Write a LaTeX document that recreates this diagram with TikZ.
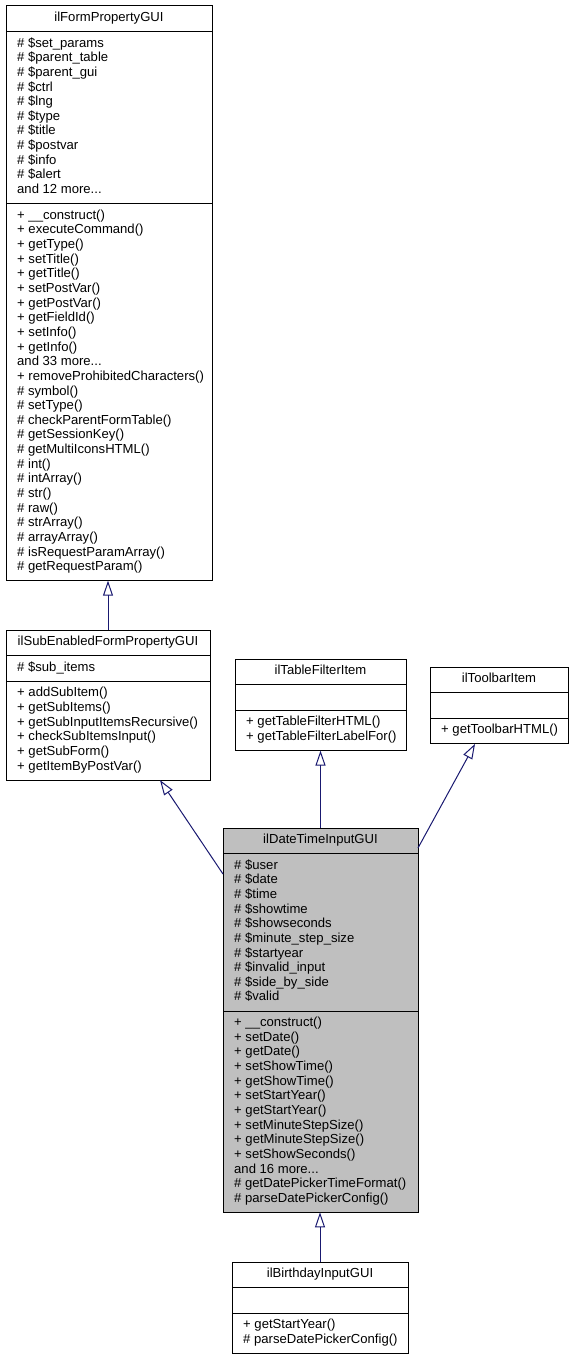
\documentclass[tikz,border=0pt]{standalone}
\usepackage{fontspec}
\setmainfont{Liberation Sans}
\usetikzlibrary{arrows.meta,calc}
\definecolor{edgeblue}{HTML}{191970}
\definecolor{hlgray}{HTML}{BFBFBF}
\newcommand\mymoredots{...}
\newcommand\memberlist[4]{%
  \foreach [count=\i from 0] \t in {#4}
    \node[mem] (#1\i) at (#2,{#3+\i*14.65}) {\t};}
\tikzset{
  umlbox/.style={draw=black, line width=1pt, rectangle, inner sep=0pt, outer sep=0pt, anchor=north west, fill=white},
  sepline/.style={draw=black, line width=1pt},
  mem/.style={anchor=base west, inner sep=0pt, font=\fontsize{13.1}{14.65}\selectfont},
  ttl/.style={anchor=base, inner sep=0pt, font=\fontsize{13.1}{14.65}\selectfont},
  inh/.style={draw=edgeblue, line width=1pt, -{Triangle[open, length=15pt, width=10pt]}}
}
\begin{document}
\begin{tikzpicture}[x=1pt,y=-1pt]
\useasboundingbox (0,0) rectangle (574,1359);

% ---- A: ilFormPropertyGUI
\node[umlbox, minimum width=206pt, minimum height=574.68pt] (A) at (6,6) {};
\draw[sepline] (6,31.64) -- (212,31.64);
\draw[sepline] (6,203.68) -- (212,203.68);
\node[ttl] (At) at (109,21.5) {ilFormPropertyGUI};
\memberlist{Aa}{17}{47.1}{\# \$set\_params,\# \$parent\_table,\# \$parent\_gui,\# \$ctrl,\# \$lng,\# \$type,\# \$title,\# \$postvar,\# \$info,\# \$alert,and 12 more\mymoredots}
\memberlist{Am}{17}{219.2}{+ \_\_construct(),+ executeCommand(),+ getType(),+ setTitle(),+ getTitle(),+ setPostVar(),+ getPostVar(),+ getFieldId(),+ setInfo(),+ getInfo(),and 33 more\mymoredots,+ removeProhibitedCharacters(),\# symbol(),\# setType(),\# checkParentFormTable(),\# getSessionKey(),\# getMultiIconsHTML(),\# int(),\# intArray(),\# str(),\# raw(),\# strArray(),\# arrayArray(),\# isRequestParamArray(),\# getRequestParam()}

% ---- B: ilSubEnabledFormPropertyGUI
\node[umlbox, minimum width=204pt, minimum height=150.12pt] (B) at (6,630) {};
\draw[sepline] (6,655.64) -- (210,655.64);
\draw[sepline] (6,681.28) -- (210,681.28);
\node[ttl] (Bt) at (108,645.5) {ilSubEnabledFormPropertyGUI};
\memberlist{Ba}{17}{671.1}{\# \$sub\_items}
\memberlist{Bm}{17}{696.8}{+ addSubItem(),+ getSubItems(),+ getSubInputItemsRecursive(),+ checkSubItemsInput(),+ getSubForm(),+ getItemByPostVar()}

% ---- C: ilTableFilterItem
\node[umlbox, minimum width=171pt, minimum height=91.56pt] (C) at (235,659) {};
\draw[sepline] (235,684.64) -- (406,684.64);
\draw[sepline] (235,710.28) -- (406,710.28);
\node[ttl] (Ct) at (320.5,674.5) {ilTableFilterItem};
\memberlist{Cm}{246}{725.8}{+ getTableFilterHTML(),+ getTableFilterLabelFor()}

% ---- D: ilToolbarItem
\node[umlbox, minimum width=138pt, minimum height=76.92pt] (D) at (430,667) {};
\draw[sepline] (430,692.64) -- (568,692.64);
\draw[sepline] (430,718.28) -- (568,718.28);
\node[ttl] (Dt) at (499,682.5) {ilToolbarItem};
\memberlist{Dm}{441}{733.8}{+ getToolbarHTML()}

% ---- E: ilDateTimeInputGUI
\node[umlbox, fill=hlgray, minimum width=195pt, minimum height=384.36pt] (E) at (223,828) {};
\draw[sepline] (223,853.64) -- (418,853.64);
\draw[sepline] (223,1011.04) -- (418,1011.04);
\node[ttl] (Et) at (320.5,843.5) {ilDateTimeInputGUI};
\memberlist{Ea}{234}{869.1}{\# \$user,\# \$date,\# \$time,\# \$showtime,\# \$showseconds,\# \$minute\_step\_size,\# \$startyear,\# \$invalid\_input,\# \$side\_by\_side,\# \$valid}
\memberlist{Em}{234}{1026.5}{+ \_\_construct(),+ setDate(),+ getDate(),+ setShowTime(),+ getShowTime(),+ setStartYear(),+ getStartYear(),+ setMinuteStepSize(),+ getMinuteStepSize(),+ setShowSeconds(),and 16 more\mymoredots,\# getDatePickerTimeFormat(),\# parseDatePickerConfig()}

% ---- F: ilBirthdayInputGUI
\node[umlbox, minimum width=176pt, minimum height=91.56pt] (F) at (232,1262) {};
\draw[sepline] (232,1287.64) -- (408,1287.64);
\draw[sepline] (232,1313.28) -- (408,1313.28);
\node[ttl] (Ft) at (320,1277.5) {ilBirthdayInputGUI};
\memberlist{Fm}{243}{1328.8}{+ getStartYear(),\# parseDatePickerConfig()}

% ---- inheritance connectors
\draw[inh] (B.north) -- (B.north |- A.south);
\draw[inh] ($(E.north west)+(0,46)$) -- ($(B.south west)+(154,0)$);
\draw[inh] (E.north) -- (E.north |- C.south);
\draw[inh] ($(E.north east)+(0,20)$) -- ($(D.south west)+(45,0)$);
\draw[inh] (F.north) -- (F.north |- E.south);
\end{tikzpicture}
\end{document}
